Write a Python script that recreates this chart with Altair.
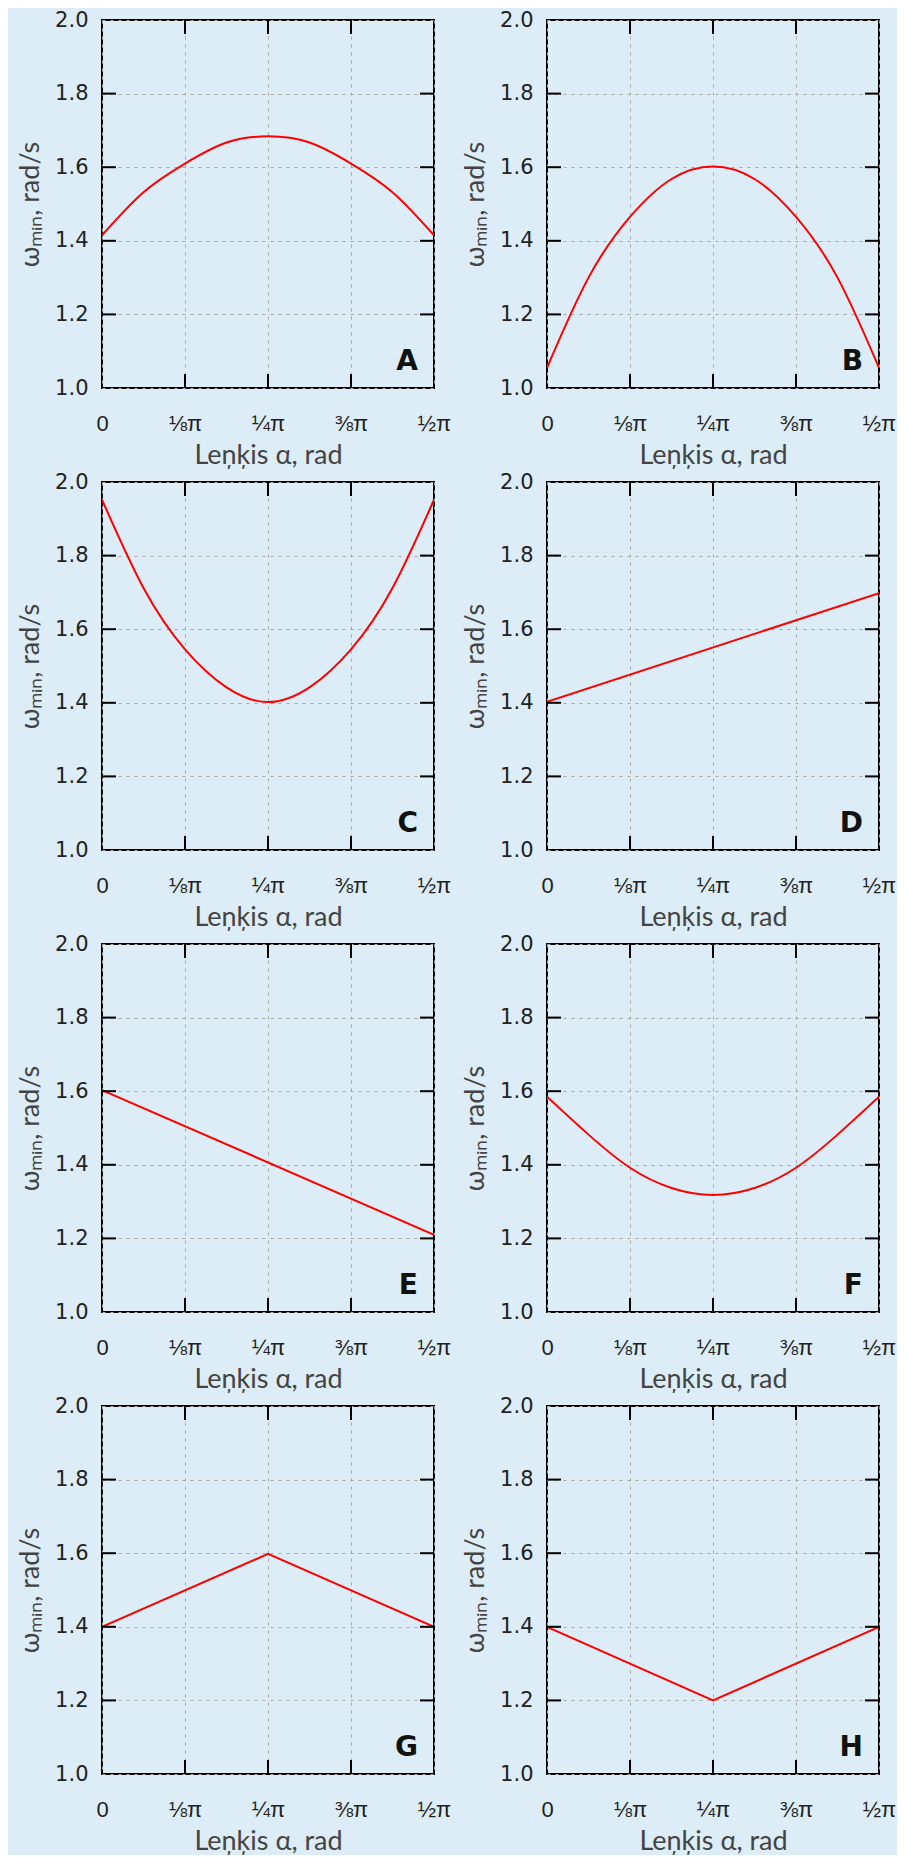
import altair as alt
import pandas as pd

# ---- data (x in units of pi, y = omega_min in rad/s) ----
X_TICKS = [0, 0.125, 0.25, 0.375, 0.5]
X_LABELS = ["0", "⅛π", "¼π", "⅜π", "½π"]
Y_TICKS = [1.0, 1.2, 1.4, 1.6, 1.8, 2.0]

curve_x = [0, 0.0625, 0.125, 0.1875, 0.25, 0.3125, 0.375, 0.4375, 0.5]
A_y = [1.415, 1.532, 1.610, 1.667, 1.684, 1.667, 1.610, 1.532, 1.415]
B_y = [1.055, 1.300, 1.465, 1.568, 1.602, 1.568, 1.465, 1.300, 1.055]
C_y = [1.952, 1.712, 1.545, 1.442, 1.402, 1.442, 1.545, 1.712, 1.952]
F_y = [1.585, 1.482, 1.392, 1.337, 1.318, 1.337, 1.392, 1.482, 1.585]

D_x = [0, 0.5]
D_y = [1.403, 1.698]
E_x = [0, 0.5]
E_y = [1.603, 1.210]
G_x = [0, 0.25, 0.5]
G_y = [1.400, 1.598, 1.400]
H_x = [0, 0.25, 0.5]
H_y = [1.400, 1.200, 1.400]

PANELS = [
    ("A", curve_x, A_y, "natural"),
    ("B", curve_x, B_y, "natural"),
    ("C", curve_x, C_y, "natural"),
    ("D", D_x, D_y, "linear"),
    ("E", E_x, E_y, "linear"),
    ("F", curve_x, F_y, "natural"),
    ("G", G_x, G_y, "linear"),
    ("H", H_x, H_y, "linear"),
]

X_TITLE = "Leņķis α, rad"
Y_TITLE = "ωₘᵢₙ, rad/s"

# ---- style ----
W, H = 332, 368
TL = 14
BG = "#dcedf7"
LABEL_FONT = "DejaVu Sans"
TITLE_FONT = "Lato"

label_expr = " : ".join(
    f"datum.value == {v} ? '{l}'" for v, l in zip(X_TICKS, X_LABELS)
) + " : ''"


def panel(letter, xs, ys, interp):
    df = pd.DataFrame({"a": xs, "w": ys})
    xsc = alt.Scale(domain=[0, 0.5], nice=False, zero=False)
    ysc = alt.Scale(domain=[1.0, 2.0], nice=False, zero=False)
    xax = alt.Axis(values=X_TICKS, labelExpr=label_expr, title=X_TITLE,
                   grid=True, ticks=False, domain=False,
                   labelFont="Liberation Sans", labelFontSize=22,
                   labelPadding=25, titlePadding=8, labelFlush=False)
    yax = alt.Axis(values=Y_TICKS, format=".1f", title=Y_TITLE,
                   grid=True, ticks=False, domain=False,
                   labelPadding=14, titlePadding=10)
    line = alt.Chart(df).mark_line(color="#ff0000", strokeWidth=2,
                                   interpolate=interp, clip=True).encode(
        x=alt.X("a:Q", scale=xsc, axis=xax),
        y=alt.Y("w:Q", scale=ysc, axis=yax),
    )
    ytk = pd.DataFrame({"w": Y_TICKS[1:-1]})
    xtk = pd.DataFrame({"a": X_TICKS[1:-1]})
    rule = dict(color="black", strokeWidth=2)
    lt = alt.Chart(ytk).mark_rule(**rule).encode(
        y=alt.Y("w:Q", scale=ysc, axis=yax), x=alt.value(0), x2=alt.value(TL))
    rt = alt.Chart(ytk).mark_rule(**rule).encode(
        y=alt.Y("w:Q", scale=ysc, axis=yax), x=alt.value(W - TL), x2=alt.value(W))
    bt = alt.Chart(xtk).mark_rule(**rule).encode(
        x=alt.X("a:Q", scale=xsc, axis=xax), y=alt.value(H - TL), y2=alt.value(H))
    tt = alt.Chart(xtk).mark_rule(**rule).encode(
        x=alt.X("a:Q", scale=xsc, axis=xax), y=alt.value(0), y2=alt.value(TL))
    lab = alt.Chart(pd.DataFrame({"t": [letter]})).mark_text(
        align="right", baseline="alphabetic", fontSize=28, fontWeight="bold",
        font="DejaVu Sans", color="#111").encode(
        x=alt.value(W - 16), y=alt.value(H - 18), text="t:N")
    return alt.layer(line, lt, rt, bt, tt, lab).properties(width=W, height=H)


chart = alt.concat(*[panel(*p) for p in PANELS], columns=2,
                   spacing={"row": 94, "column": 113},
                   bounds="flush").properties(
    background=BG,
    padding={"left": 7, "top": 0, "right": 0, "bottom": 0},
).configure_view(
    stroke="black", strokeWidth=2, fill=None
).configure_axis(
    labelFont=LABEL_FONT, labelFontSize=21, labelColor="#222",
    titleFont=TITLE_FONT, titleFontSize=27, titleFontWeight="normal",
    titleColor="#444",
    gridColor="#aaa6a0", gridDash=[3, 5], gridWidth=1,
)

chart.save("out.html", embed_options={"renderer": "svg", "actions": False})
